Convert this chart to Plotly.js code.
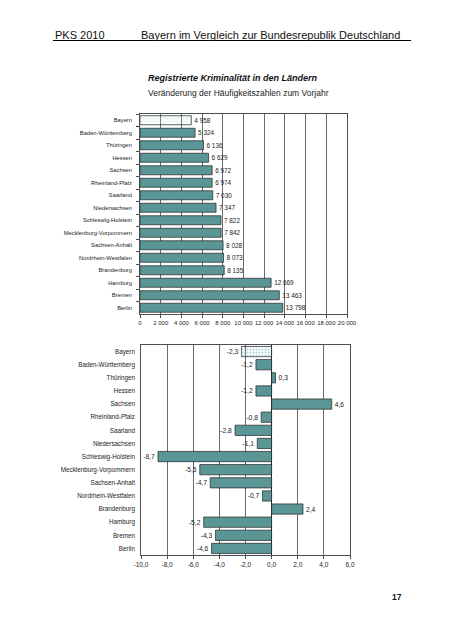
<!DOCTYPE html>
<html>
<head>
<meta charset="utf-8">
<script src="https://cdn.plot.ly/plotly-3.0.1.min.js"></script>
<style>html,body{margin:0;padding:0;background:#fff;}#chart{width:452px;height:640px;}</style>
</head>
<body>
<div id="chart"></div>
<script>
// ---- Data ----
const states = ["Bayern","Baden-Württemberg","Thüringen","Hessen","Sachsen","Rheinland-Pfalz","Saarland","Niedersachsen","Schleswig-Holstein","Mecklenburg-Vorpommern","Sachsen-Anhalt","Nordrhein-Westfalen","Brandenburg","Hamburg","Bremen","Berlin"];
const hz2010 = [4958,5324,6136,6629,6972,6974,7030,7347,7822,7842,8028,8073,8135,12669,13463,13798];
const statesChange = ["Bayern","Baden-Württemberg","Thüringen","Hessen","Sachsen","Rheinland-Pfalz","Saarland","Niedersachsen","Schleswig-Holstein","Mecklenburg-Vorpommern","Sachsen-Anhalt","Nordrhein-Westfalen","Brandenburg","Hamburg","Bremen","Berlin"];
const changePct = [-2.3,-1.2,0.3,-1.2,4.6,-0.8,-2.8,-1.1,-8.7,-5.5,-4.7,-0.7,2.4,-5.2,-4.3,-4.6];
const topTickVals = [0,2000,4000,6000,8000,10000,12000,14000,16000,18000,20000];
const topTickText = ["0","2 000","4 000","6 000","8 000","10 000","12 000","14 000","16 000","18 000","20 000"];
const bottomTickVals = [-10,-8,-6,-4,-2,0,2,4,6];
const bottomTickText = ["-10,0","-8,0","-6,0","-4,0","-2,0","0,0","2,0","4,0","6,0"];

// ---- Helpers ----
const W = 452, H = 640;
const px = v => v / W;
const py = v => 1 - v / H;
const FONT = "Liberation Sans, Arial, sans-serif";
const TEAL = "#5a9696";
const fmtThousands = v => String(v).replace(/\B(?=(\d{3})+(?!\d))/g, " ");
const fmtDec = v => v.toFixed(1).replace(".", ",");
const patternFor = arr => arr.map((s, i) => i === 0 ? "." : "");

const traceTop = {
  type: "bar", orientation: "h",
  x: hz2010, y: states, xaxis: "x", yaxis: "y",
  width: 0.72,
  text: hz2010.map(fmtThousands),
  textposition: "outside", cliponaxis: false,
  textfont: {family: FONT, size: 6.4, color: "#222"},
  marker: {
    color: states.map((s, i) => i === 0 ? "#dcecec" : TEAL),
    line: {color: "#222", width: 0.7},
    pattern: {shape: patternFor(states), fgcolor: "#3d8a8a", bgcolor: "#dcecec", size: 3, solidity: 0.35}
  },
  hoverinfo: "skip"
};

const traceBottom = {
  type: "bar", orientation: "h",
  x: changePct, y: statesChange, xaxis: "x2", yaxis: "y2",
  width: 0.78,
  text: changePct.map(fmtDec),
  textposition: "outside", cliponaxis: false,
  textfont: {family: FONT, size: 6.7, color: "#222"},
  marker: {
    color: statesChange.map((s, i) => i === 0 ? "#a9d6d6" : TEAL),
    line: {color: "#222", width: 0.7},
    pattern: {shape: patternFor(statesChange), fgcolor: "#3d8a8a", bgcolor: "#a9d6d6", size: 3, solidity: 0.35}
  },
  hoverinfo: "skip"
};

const axisCommon = {
  showline: true, linecolor: "#222", linewidth: 0.8, mirror: true,
  ticks: "outside", ticklen: 3, tickcolor: "#222", tickwidth: 0.8,
  zeroline: false, fixedrange: true
};

const layout = {
  width: W, height: H,
  margin: {l: 0, r: 0, t: 0, b: 0},
  paper_bgcolor: "#fff", plot_bgcolor: "#fff",
  showlegend: false,
  font: {family: FONT, color: "#222"},
  xaxis: Object.assign({}, axisCommon, {
    domain: [px(140), px(347)], anchor: "y", range: [0, 20000],
    tickvals: topTickVals, ticktext: topTickText, tickangle: 0,
    showgrid: true, gridcolor: "#444", gridwidth: 0.8,
    tickfont: {family: FONT, size: 6, color: "#222"}
  }),
  yaxis: Object.assign({}, axisCommon, {
    domain: [py(314), py(114)], anchor: "x", type: "category",
    categoryorder: "array", categoryarray: states,
    autorange: "reversed", tickson: "boundaries", showgrid: false,
    ticklabelstandoff: 6,
    tickfont: {family: FONT, size: 5.8, color: "#222"}
  }),
  xaxis2: Object.assign({}, axisCommon, {
    domain: [px(141), px(350)], anchor: "y2", range: [-10, 6],
    tickvals: bottomTickVals, ticktext: bottomTickText, tickangle: 0,
    showgrid: true, gridcolor: "#444", gridwidth: 0.8,
    zeroline: true, zerolinecolor: "#222", zerolinewidth: 1,
    tickfont: {family: FONT, size: 6.5, color: "#222"}
  }),
  yaxis2: Object.assign({}, axisCommon, {
    domain: [py(555), py(345)], anchor: "x2", type: "category",
    categoryorder: "array", categoryarray: statesChange,
    autorange: "reversed", ticks: "", showgrid: false,
    ticklabelstandoff: 4,
    tickfont: {family: FONT, size: 6.3, color: "#222"}
  }),
  shapes: [
    {type: "line", xref: "paper", yref: "paper", x0: px(53), x1: px(411), y0: py(40.5), y1: py(40.5), line: {color: "#000", width: 1}}
  ],
  annotations: [
    {text: "PKS 2010", xref: "paper", yref: "paper", x: px(53), y: py(35), xanchor: "left", yanchor: "middle", showarrow: false, font: {family: FONT, size: 11, color: "#111"}},
    {text: "Bayern im Vergleich zur Bundesrepublik Deutschland", xref: "paper", yref: "paper", x: px(402), y: py(35), xanchor: "right", yanchor: "middle", showarrow: false, font: {family: FONT, size: 11, color: "#111"}},
    {text: "<b><i>Registrierte Kriminalität in den Ländern</i></b>", xref: "paper", yref: "paper", x: px(146), y: py(78), xanchor: "left", yanchor: "middle", showarrow: false, font: {family: FONT, size: 9, color: "#111"}},
    {text: "Veränderung der Häufigkeitszahlen zum Vorjahr", xref: "paper", yref: "paper", x: px(146), y: py(93), xanchor: "left", yanchor: "middle", showarrow: false, font: {family: FONT, size: 8.5, color: "#222"}},
    {text: "<b>17</b>", xref: "paper", yref: "paper", x: px(397), y: py(597), xanchor: "center", yanchor: "middle", showarrow: false, font: {family: FONT, size: 8.5, color: "#111"}}
  ]
};

Plotly.newPlot("chart", [traceTop, traceBottom], layout, {displayModeBar: false, staticPlot: true});
</script>
</body>
</html>
